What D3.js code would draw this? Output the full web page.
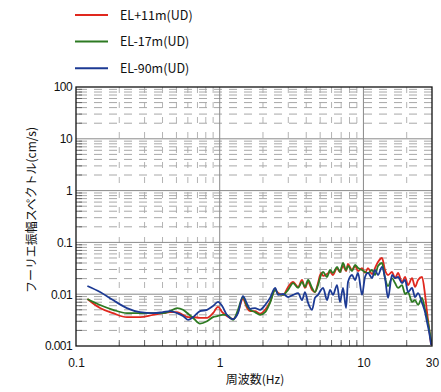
<!DOCTYPE html>
<html><head><meta charset="utf-8">
<script src="https://cdn.jsdelivr.net/npm/d3@7"></script>
<style>
html,body{margin:0;padding:0;background:#fff;}
svg{display:block;font-family:"Noto Sans CJK JP","Liberation Sans",sans-serif;}
</style></head>
<body><svg id="c" width="441" height="392"></svg>
<script>
// ---- data ----
const freq = [0.12,0.147,0.181,0.226,0.279,0.344,0.403,0.451,0.505,0.555,0.602,0.652,0.729,0.816,0.898,0.973,1.04,1.12,1.24,1.34,1.45,1.55,1.63,1.76,1.91,2.07,2.24,2.43,2.55,2.76,2.99,3.24,3.51,3.74,3.92,4.12,4.39,4.60,4.83,5.07,5.24,5.58,5.86,6.14,6.55,6.87,7.21,7.57,7.81,8.33,8.74,9.17,9.78,10.26,10.76,11.48,12.04,12.63,13.47,14.13,14.84,15.81,16.6,17.41,18.56,19.48,20.44,21.79,22.86,23.99,25.58,26.84,27.71,28.61,29.6];
const el11 = [.0081,.0054,.0043,.0036,.0036,.0040,.0043,.0045,.0045,.0040,.0036,.0036,.0035,.0035,.0043,.0057,.0045,.0038,.0033,.0045,.0081,.0054,.0047,.0047,.0042,.0050,.0071,.0121,.0105,.0097,.0138,.0172,.0138,.0188,.0132,.0172,.0121,.0110,.0164,.0257,.0225,.0245,.0268,.0235,.0320,.0268,.0350,.0280,.0383,.0293,.0350,.0280,.0320,.0257,.0320,.0245,.0320,.0418,.0500,.0293,.0235,.0268,.0205,.0257,.0172,.0215,.0150,.0205,.0138,.0188,.0215,.0097,.0045,.0022,.00105];
const el17 = [.0081,.0062,.0050,.0043,.0043,.0043,.0043,.0047,.0054,.0050,.0042,.0035,.0027,.0030,.0036,.0038,.0040,.0040,.0032,.0050,.0088,.0059,.0050,.0045,.0040,.0045,.0068,.0121,.0101,.0097,.0121,.0164,.0132,.0172,.0138,.0188,.0132,.0110,.0150,.0235,.0268,.0215,.0293,.0257,.0335,.0268,.0400,.0293,.0350,.0280,.0366,.0320,.0293,.0268,.0257,.0293,.0235,.0350,.0400,.0205,.0144,.0205,.0164,.0132,.0150,.0101,.0110,.0071,.0077,.0062,.0085,.0050,.0035,.0022,.0012];
const el90 = [.0144,.0110,.0077,.0054,.0045,.0043,.0045,.0047,.0043,.0038,.0032,.0036,.0047,.0050,.0059,.0071,.0059,.0040,.0033,.0043,.0092,.0065,.0052,.0054,.0050,.0062,.0085,.0132,.0097,.0101,.0088,.0097,.0105,.0077,.0110,.0068,.0050,.0085,.0097,.0121,.0132,.0077,.0121,.0097,.0150,.0071,.0132,.0054,.0172,.0235,.0188,.0257,.0097,.0215,.0257,.0205,.0293,.0235,.0335,.0205,.0085,.0235,.0205,.0215,.0164,.0188,.0110,.0132,.0088,.0105,.0068,.0045,.0029,.0019,.00105];
const seriesNames = ["EL+11m(UD)","EL-17m(UD)","EL-90m(UD)"];
const seriesColors = ["#e0281e","#2d7a22","#1c3a94"];
const xTickLabels = [0.1,1,10,30];
const yTickLabels = [0.001,0.01,0.1,1,10,100];
const xTitle = "周波数(Hz)";
const yTitle = "フーリエ振幅スペクトル(cm/s)";

// ---- layout ----
const L=76,R=432,T=87,B=346;
const svg=d3.select("#c");
const x=d3.scaleLog().domain([0.1,30]).range([L,R]);
const y=d3.scaleLog().domain([0.001,100]).range([B,T]);

const minorY=[],majorY=[0.01,0.1,1,10];
[0.001,0.01,0.1,1,10].forEach(d=>{for(let k=2;k<=9;k++)minorY.push(d*k);});
const minorX=[],majorX=[1,10];
[0.1,1,10].forEach(d=>{for(let k=2;k<=9;k++){const v=d*k;if(v<30)minorX.push(v);}});

const g=svg.append("g");
// minor vertical dashed
g.selectAll(".vx").data(minorX).join("line")
 .attr("x1",d=>x(d)).attr("x2",d=>x(d)).attr("y1",T).attr("y2",B)
 .attr("stroke","#b4b4b4").attr("stroke-width",1).attr("stroke-dasharray","6,9");
// minor horizontal dashed
g.selectAll(".hy").data(minorY).join("line")
 .attr("x1",L).attr("x2",R).attr("y1",d=>y(d)).attr("y2",d=>y(d))
 .attr("stroke","#a8a8a8").attr("stroke-width",1).attr("stroke-dasharray","8,7").attr("stroke-dashoffset",-3);
// major
g.selectAll(".mx").data(majorX).join("line")
 .attr("x1",d=>x(d)).attr("x2",d=>x(d)).attr("y1",T).attr("y2",B)
 .attr("stroke","#8a8a8a").attr("stroke-width",1);
g.selectAll(".my").data(majorY).join("line")
 .attr("x1",L).attr("x2",R).attr("y1",d=>y(d)).attr("y2",d=>y(d))
 .attr("stroke","#8a8a8a").attr("stroke-width",1);

// inner ticks
g.selectAll(".tx").data(minorX).join("line")
 .attr("x1",d=>x(d)).attr("x2",d=>x(d)).attr("y1",B).attr("y2",B-6)
 .attr("stroke","#666").attr("stroke-width",1);
g.selectAll(".ty").data(minorY).join("line")
 .attr("x1",L).attr("x2",L+6).attr("y1",d=>y(d)).attr("y2",d=>y(d))
 .attr("stroke","#666").attr("stroke-width",1);

// lines
const rows=freq.map((f,i)=>({f,v:[el11[i],el17[i],el90[i]]}));
const line=k=>d3.line().x(d=>x(d.f)).y(d=>y(d.v[k])).curve(d3.curveMonotoneX);
[0,1,2].forEach(k=>{
  svg.append("path").datum(rows).attr("d",line(k)).attr("fill","none")
   .attr("stroke",seriesColors[k]).attr("stroke-width",1.8).attr("stroke-linejoin","round");
});

// frame
svg.append("rect").attr("x",L).attr("y",T).attr("width",R-L).attr("height",B-T)
 .attr("fill","none").attr("stroke","#111").attr("stroke-width",1.3);

// axes labels
const fmt=d=>String(d);
svg.append("g").attr("transform",`translate(0,${B})`)
 .call(d3.axisBottom(x).tickValues(xTickLabels).tickFormat(fmt).tickSize(0).tickPadding(12))
 .call(a=>{a.select(".domain").remove();a.selectAll("text").attr("font-size",12).attr("fill","#111").attr("font-family","Liberation Sans, Arial, sans-serif");});
svg.append("g").attr("transform",`translate(${L},0)`)
 .call(d3.axisLeft(y).tickValues(yTickLabels).tickFormat(fmt).tickSize(0).tickPadding(4))
 .call(a=>{a.select(".domain").remove();a.selectAll("text").attr("font-size",12).attr("fill","#111").attr("letter-spacing","-0.6").attr("font-family","Liberation Sans, Arial, sans-serif");});

svg.append("text").attr("x",255).attr("y",384).attr("text-anchor","middle")
 .attr("font-size",12).attr("fill","#111").text(xTitle);
svg.append("text").attr("transform","translate(36,210) rotate(-90)").attr("text-anchor","middle")
 .attr("font-size",12).attr("fill","#111").attr("textLength",166).attr("lengthAdjust","spacingAndGlyphs").text(yTitle);

// legend
const lg=svg.append("g");
seriesNames.forEach((n,i)=>{
  const yy=15+i*26.6;
  lg.append("line").attr("x1",75).attr("x2",108).attr("y1",yy).attr("y2",yy)
    .attr("stroke",seriesColors[i]).attr("stroke-width",2);
  lg.append("text").attr("x",120).attr("y",yy+4.5).attr("font-size",12.5).attr("fill","#111").text(n);
});
</script></body></html>
